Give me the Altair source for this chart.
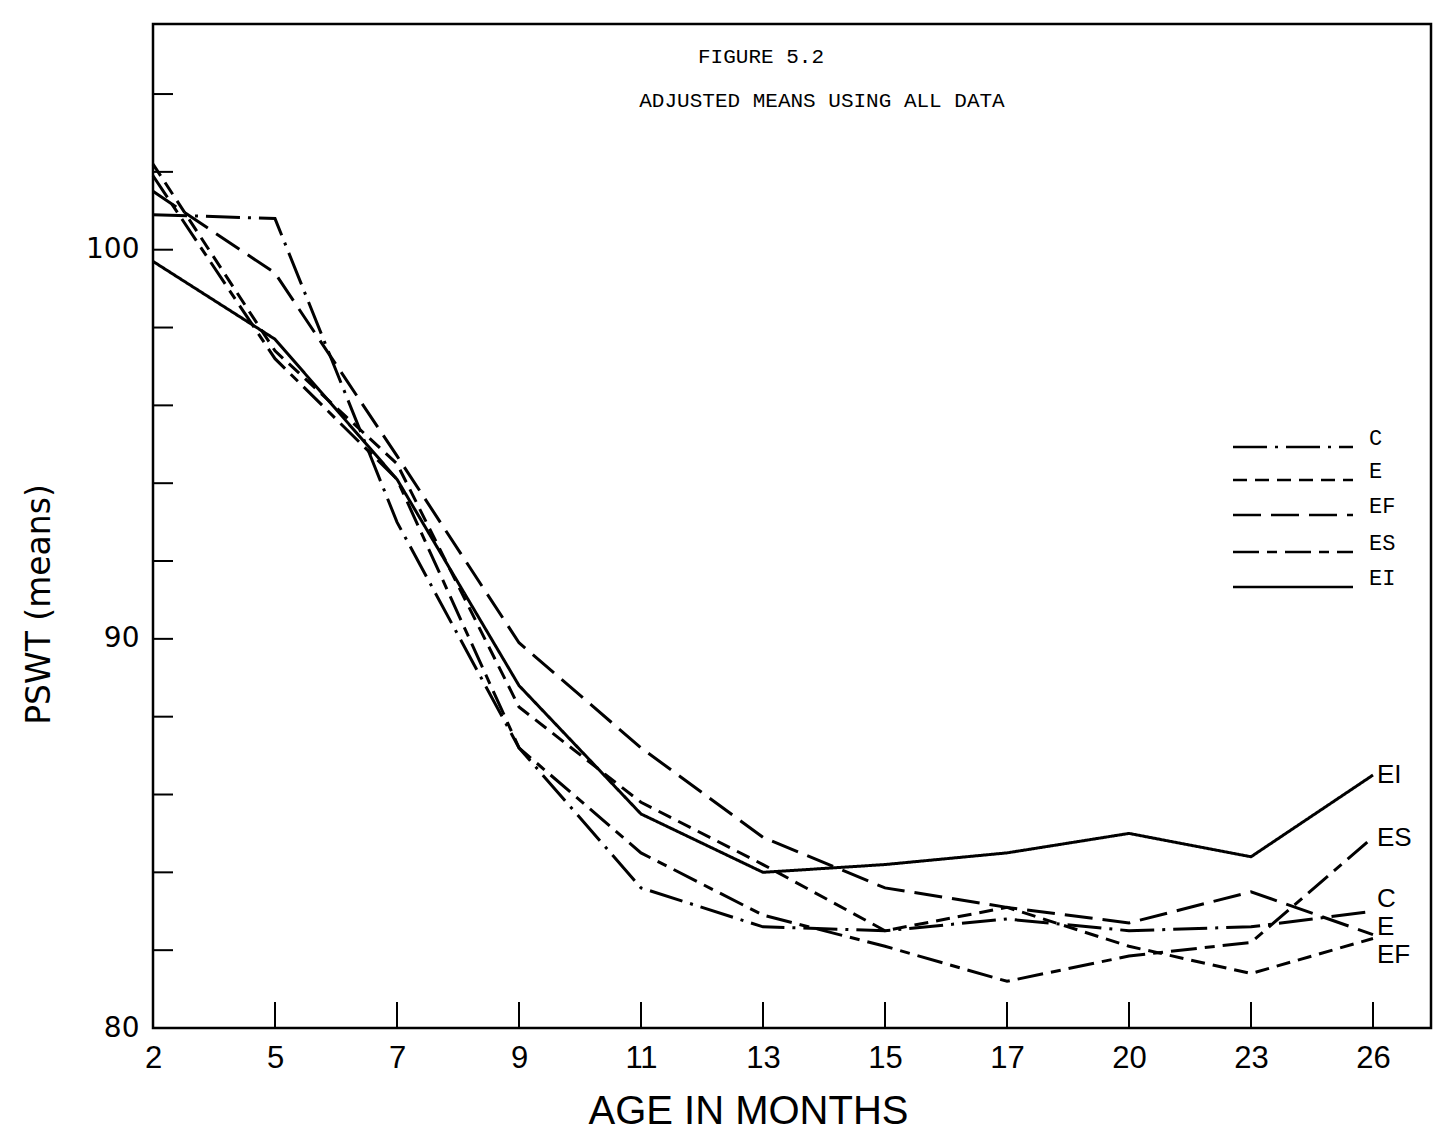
import altair as alt
import pandas as pd

# ---- data ----
ages = [2, 5, 7, 9, 11, 13, 15, 17, 20, 23, 26]
series_names = ["C", "E", "EF", "ES", "EI"]
C_vals = [100.9, 100.8, 93.0, 87.2, 83.6, 82.6, 82.5, 82.8, 82.5, 82.6, 83.0]
E_vals = [102.2, 97.4, 94.5, 88.25, 85.8, 84.2, 82.5, 83.1, 82.1, 81.4, 82.3]
EF_vals = [101.5, 99.4, 94.7, 89.9, 87.2, 84.9, 83.6, 83.1, 82.7, 83.5, 82.4]
ES_vals = [101.9, 97.2, 94.1, 87.2, 84.5, 82.9, 82.1, 81.2, 81.85, 82.2, 84.9]
EI_vals = [99.7, 97.7, 94.1, 88.8, 85.5, 84.0, 84.2, 84.5, 85.0, 84.4, 86.5]
y_ticks = [80, 82, 84, 86, 88, 90, 92, 94, 96, 98, 100, 102, 104]
y_labels = [80, 90, 100]

rows = []
for name, vals in zip(series_names, [C_vals, E_vals, EF_vals, ES_vals, EI_vals]):
    for a, v in zip(ages, vals):
        rows.append({"series": name, "age": a, "value": v})
df = pd.DataFrame(rows)
last = df[df["age"] == ages[-1]]

# ---- layout / style ----
W, H = 1278, 1004
LEFT, TOP = 153, 24
SANS = "DejaVu Sans"
NARROW = "Liberation Sans Narrow, Liberation Sans"
MONO = "Liberation Mono"
dash_patterns = {"C": [34, 8, 3, 8], "E": [14, 8], "EF": [28, 10],
                 "ES": [26, 8, 10, 8], "EI": [1, 0]}

x_scale = alt.Scale(type="point", domain=ages, range=[0, 1220], padding=0)
y_scale = alt.Scale(domain=[80, 105.8], nice=False, zero=False)
dash = alt.StrokeDash(
    "series:N",
    scale=alt.Scale(domain=series_names,
                    range=[dash_patterns[s] for s in series_names]),
    legend=None,
)

x_axis = alt.Axis(labelAngle=0, ticks=False, domain=False, grid=False,
                  labelFont=NARROW, labelFontSize=31, labelPadding=15,
                  labelColor="black", title="AGE IN MONTHS", titleFont=NARROW,
                  titleFontSize=40, titleFontWeight="normal", titleColor="black",
                  titleX=595, titleY=83, titleBaseline="middle", titleAlign="center")
y_axis = alt.Axis(values=y_labels, ticks=False, domain=False, grid=False,
                  labelFont=SANS, labelFontSize=28, labelPadding=14,
                  labelColor="black", title="PSWT (means)", titleFont=SANS,
                  titleFontSize=33, titleFontWeight="normal", titleColor="black",
                  titleX=-114, titleY=580, titleAngle=270,
                  titleBaseline="middle", titleAlign="center")


def X(field):
    return alt.X(field, scale=x_scale, sort=ages, axis=x_axis)


def Y(field):
    return alt.Y(field, scale=y_scale, axis=y_axis)


lines = alt.Chart(df).mark_line(color="black", strokeWidth=3).encode(
    x=X("age:O"), y=Y("value:Q"), strokeDash=dash, detail="series:N"
)

yticks = alt.Chart(pd.DataFrame({"value": y_ticks})).mark_rule(
    color="black", strokeWidth=2
).encode(y=Y("value:Q"), x=alt.value(0), x2=alt.value(20))

xticks = alt.Chart(pd.DataFrame({"age": ages})).mark_rule(
    color="black", strokeWidth=2
).encode(x=X("age:O"), y=alt.value(H), y2=alt.value(H - 26))

label_dy = {"EI": 0, "ES": 1, "C": -12, "E": -11, "EF": 20}
end_labels = []
for name in series_names:
    end_labels.append(
        alt.Chart(last[last["series"] == name]).mark_text(
            align="left", baseline="middle", dx=4, dy=label_dy[name],
            font=NARROW, fontSize=26, color="black"
        ).encode(x=X("age:O"), y=Y("value:Q"), text="series:N")
    )

title1 = alt.Chart(pd.DataFrame({"t": ["FIGURE 5.2"]})).mark_text(
    font=MONO, fontSize=21, align="center", baseline="middle", color="black"
).encode(x=alt.value(761 - LEFT), y=alt.value(57 - TOP), text="t:N")
title2 = alt.Chart(pd.DataFrame({"t": ["ADJUSTED MEANS USING ALL DATA"]})).mark_text(
    font=MONO, fontSize=21, align="center", baseline="middle", color="black"
).encode(x=alt.value(822 - LEFT), y=alt.value(101 - TOP), text="t:N")

# ---- legend drawn inside the plot (style positions, not data) ----
legend_rows_y = {"C": 447, "E": 480, "EF": 515, "ES": 552, "EI": 587}
legend_layers = []
for name in series_names:
    one = pd.DataFrame({"series": [name]})
    ly = legend_rows_y[name] - TOP
    legend_layers.append(
        alt.Chart(one).mark_rule(color="black", strokeWidth=2.5,
                                 strokeDash=dash_patterns[name]).encode(
            x=alt.value(1233 - LEFT), x2=alt.value(1353 - LEFT), y=alt.value(ly)
        )
    )
    legend_layers.append(
        alt.Chart(one).mark_text(align="left", baseline="middle", font=MONO,
                                 fontSize=22, color="black").encode(
            x=alt.value(1369 - LEFT), y=alt.value(ly - 9), text="series:N"
        )
    )

chart = (
    alt.layer(lines, yticks, xticks, *end_labels, title1, title2, *legend_layers)
    .properties(
        width=W, height=H,
        padding={"left": LEFT, "top": TOP, "right": 1449 - LEFT - W,
                 "bottom": 1137 - TOP - H},
        autosize=alt.AutoSizeParams(type="none"),
        background="white",
    )
    .configure_view(stroke="black", strokeWidth=2.5)
)

chart.save("out.html", embed_options={"renderer": "svg", "actions": False})
